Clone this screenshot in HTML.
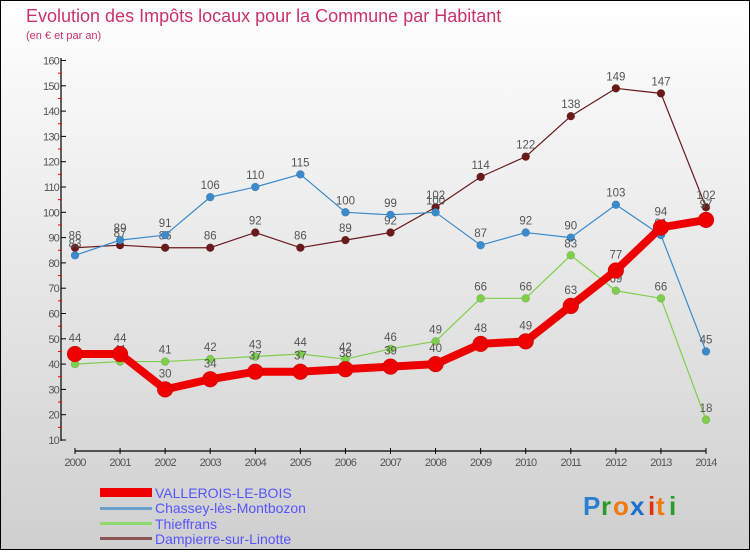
<!DOCTYPE html>
<html><head><meta charset="utf-8"><style>
body{margin:0}
svg text{font-family:"Liberation Sans",sans-serif}
</style></head><body>
<svg id="chart" width="750" height="550" xmlns="http://www.w3.org/2000/svg">
<defs><linearGradient id="bg" x1="0" y1="0" x2="0" y2="1"><stop offset="0" stop-color="#ffffff"/><stop offset="1" stop-color="#cfcfcf"/></linearGradient></defs>
<rect x="0.5" y="0.5" width="749" height="549" fill="url(#bg)" stroke="#000"/>
<text x="26" y="22" font-size="18" fill="#c8326a">Evolution des Impôts locaux pour la Commune par Habitant</text>
<text x="26" y="39" font-size="11" fill="#c8326a">(en € et par an)</text>
<g id="axes"></g>
<g id="series"></g>
<g id="legend">
<rect x="100" y="488" width="52" height="9" fill="#ee0000"/>
<text x="155" y="498" font-size="14" fill="#5555ff">VALLEROIS-LE-BOIS</text>
<rect x="100" y="507" width="52" height="3" fill="#6aa0cc"/>
<text x="155" y="513" font-size="14" fill="#5555ff">Chassey-lès-Montbozon</text>
<rect x="100" y="522" width="52" height="3" fill="#8fd870"/>
<text x="155" y="529" font-size="14" fill="#5555ff">Thieffrans</text>
<rect x="100" y="537" width="52" height="3" fill="#8b5555"/>
<text x="155" y="544" font-size="14" fill="#5555ff">Dampierre-sur-Linotte</text>
</g>
<g font-size="26" font-weight="bold">
<text x="583" y="515" fill="#2a7fd0">P</text><text x="601" y="515" fill="#2a9a2a">r</text><text x="613" y="515" fill="#f07a10">o</text><text x="630" y="515" fill="#1a6fd0">x</text><text x="648" y="515" fill="#e03010">i</text><text x="656" y="515" fill="#f07a10">t</text><text x="669" y="515" fill="#2a9a2a">i</text>
</g>
</svg>
<script>
const years=["2000","2001","2002","2003","2004","2005","2006","2007","2008","2009","2010","2011","2012","2013","2014"];
const yTicks=[10,20,30,40,50,60,70,80,90,100,110,120,130,140,150,160];
const vallerois=[44,44,30,34,37,37,38,39,40,48,49,63,77,94,97];
const chassey=[83,89,91,106,110,115,100,99,100,87,92,90,103,91,45];
const thieffrans=[40,41,41,42,43,44,42,46,49,66,66,83,69,66,18];
const dampierre=[86,87,86,86,92,86,89,92,102,114,122,138,149,147,102];
const NS="http://www.w3.org/2000/svg";
const X=i=>75+i*(706-75)/(years.length-1);
const Y=v=>440-(v-10)*(440-60.5)/150;
function mk(tag,attrs,parent){const e=document.createElementNS(NS,tag);for(const k in attrs)e.setAttribute(k,attrs[k]);parent.appendChild(e);return e;}
const ax=document.getElementById('axes');
let yl=mk('line',{x1:61,y1:58,x2:61,y2:441,stroke:'#000','stroke-width':1.2},ax);


yTicks.forEach((t,i)=>{
  mk('line',{x1:61,y1:Y(t),x2:66,y2:Y(t),stroke:'#000'},ax);
  if(i<yTicks.length-1) mk('line',{x1:58,y1:Y(t+5),x2:62,y2:Y(t+5),stroke:'#e00'},ax);
  const tx=mk('text',{x:59,y:Y(t)+4,'font-size':11,fill:'#555','text-anchor':'end','letter-spacing':'-0.8'},ax);
  tx.textContent=t;
  
  
});
let xl=mk('line',{x1:75,y1:451,x2:706,y2:451,stroke:'#000','stroke-width':1.2},ax);


years.forEach((y,i)=>{
  mk('line',{x1:X(i),y1:448,x2:X(i),y2:454,stroke:'#000'},ax);
  const tx=mk('text',{x:X(i),y:466,'font-size':11,fill:'#555','text-anchor':'middle','letter-spacing':'-0.8'},ax);
  tx.textContent=y;
  
  
});
const sg=document.getElementById('series');
function draw(data,color,w,r,name){
  const g=mk('g',{},sg);
  
  
  const p=mk('polyline',{points:data.map((v,i)=>X(i)+','+Y(v)).join(' '),fill:'none',stroke:color,'stroke-width':w,'stroke-linejoin':'round'},g);
  
  
  data.forEach((v,i)=>{
    const c=mk('circle',{cx:X(i),cy:Y(v),r:r,fill:color,stroke:'rgba(0,0,0,0.2)','stroke-width':0.5},g);
    
    
    const t=mk('text',{x:X(i),y:Y(v)-(r+4),'font-size':11.5,fill:'#555','text-anchor':'middle'},g);
    t.textContent=v;
    
    
  });
}
draw(dampierre,'#6b1a1a',1.2,4,'dampierre-series');
draw(chassey,'#3a8acc',1.2,4,'chassey-series');
draw(thieffrans,'#7ed04a',1.2,4,'thieffrans-series');
draw(vallerois,'#ee0000',8,8,'vallerois-series');
</script>
</body></html>
